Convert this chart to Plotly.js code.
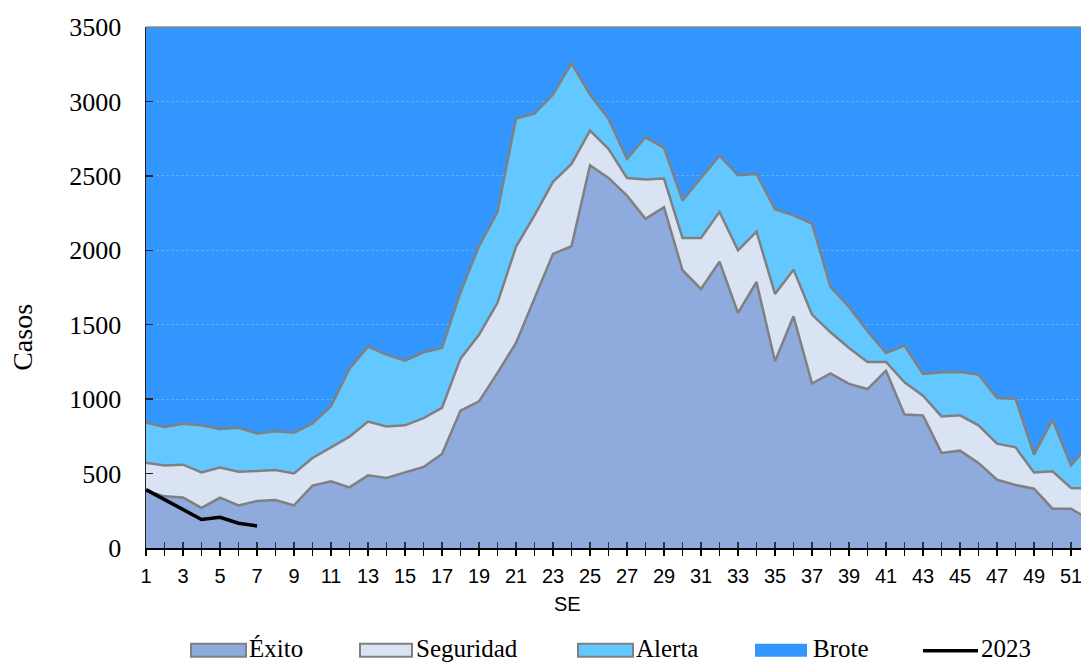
<!DOCTYPE html>
<html>
<head>
<meta charset="utf-8">
<script src="https://cdn.plot.ly/plotly-3.0.1.min.js"></script>
<style>
  body { margin: 0; background: #fff; }
  #canal { width: 1081px; height: 663px; }
</style>
</head>
<body>
<div id="canal"></div>
<script>
// Canal endémico: semanas epidemiológicas (SE) y límites de cada zona
const semanas = [1, 2, 3, 4, 5, 6, 7, 8, 9, 10, 11, 12, 13, 14, 15, 16, 17, 18, 19, 20, 21, 22, 23, 24, 25, 26,
    27, 28, 29, 30, 31, 32, 33, 34, 35, 36, 37, 38, 39, 40, 41, 42, 43, 44, 45, 46, 47, 48, 49, 50, 51, 52];

const exito = [385, 347, 340, 269, 338, 286, 316, 322, 286, 419, 448, 407, 488, 470, 508, 544, 632, 923, 985, 1176,
    1378, 1680, 1976, 2027, 2571, 2486, 2367, 2211, 2289, 1866, 1740, 1924, 1579, 1787, 1254, 1557, 1105, 1173,
    1102, 1068, 1191, 896, 891, 639, 654, 571, 459, 423, 398, 264, 264, 190];

const seguridad = [573, 555, 560, 508, 540, 513, 517, 524, 501, 605, 676, 748, 849, 817, 824, 873, 941, 1272, 1433,
    1647, 2023, 2235, 2460, 2580, 2804, 2681, 2486, 2475, 2482, 2083, 2083, 2258, 2000, 2126, 1707, 1870, 1568,
    1449, 1344, 1250, 1250, 1113, 1023, 884, 891, 824, 701, 676, 508, 515, 403, 400];

const alerta = [844, 813, 835, 824, 800, 808, 770, 784, 775, 837, 952, 1205, 1353, 1299, 1259, 1315, 1344, 1718,
    2027, 2258, 2885, 2918, 3046, 3255, 3046, 2883, 2614, 2759, 2688, 2334, 2486, 2636, 2504, 2513, 2276, 2235,
    2179, 1754, 1619, 1456, 1310, 1359, 1169, 1180, 1183, 1165, 1008, 1003, 627, 862, 555, 700];

// casos 2023 (hasta la SE 7)
const semanas2023 = [1, 2, 3, 4, 5, 6, 7];
const casos2023 = [392, 325, 264, 192, 206, 166, 148];

const leyenda = ['Éxito', 'Seguridad', 'Alerta', 'Brote', '2023'];

const colorExito = '#8faadc';
const colorSeguridad = '#dae3f3';
const colorAlerta = '#63c8ff';
const colorBrote = '#3396ff';
const colorBorde = '#808080';
const serif = '"Liberation Serif", "Times New Roman", serif';
const sans = '"Liberation Sans", Arial, sans-serif';

// cada zona se rellena hasta cero, de arriba hacia abajo
const data = [
    {
        x: semanas, y: alerta, name: leyenda[2], type: 'scatter', mode: 'lines',
        fill: 'tozeroy', fillcolor: colorAlerta,
        line: { color: colorBorde, width: 2.5 }, hoverinfo: 'x+y+name'
    },
    {
        x: semanas, y: seguridad, name: leyenda[1], type: 'scatter', mode: 'lines',
        fill: 'tozeroy', fillcolor: colorSeguridad,
        line: { color: colorBorde, width: 2.5 }, hoverinfo: 'x+y+name'
    },
    {
        x: semanas, y: exito, name: leyenda[0], type: 'scatter', mode: 'lines',
        fill: 'tozeroy', fillcolor: colorExito,
        line: { color: colorBorde, width: 2.5 }, hoverinfo: 'x+y+name'
    },
    {
        x: semanas2023, y: casos2023, name: leyenda[4], type: 'scatter', mode: 'lines',
        xaxis: 'x2',
        line: { color: '#000000', width: 3.5 }
    }
];

// posiciones de la leyenda en coordenadas del papel
const px = v => (v - 146) / 935;
const py = v => (548.3 - v) / 521.3;

const cajas = [
    { x0: 191, x1: 246, fill: colorExito, borde: true },
    { x0: 360, x1: 412, fill: colorSeguridad, borde: true },
    { x0: 578, x1: 633, fill: colorAlerta, borde: true },
    { x0: 755, x1: 807, fill: colorBrote, borde: false }
];

const shapes = cajas.map(c => ({
    type: 'rect', xref: 'paper', yref: 'paper',
    x0: px(c.x0), x1: px(c.x1), y0: py(657), y1: py(644),
    fillcolor: c.fill,
    line: { color: c.borde ? colorBorde : c.fill, width: c.borde ? 2 : 0 }
}));
shapes.push({
    type: 'line', xref: 'paper', yref: 'paper',
    x0: px(923), x1: px(978), y0: py(651), y1: py(651),
    line: { color: '#000000', width: 3.5 }
});
// borde superior del área de trazado
shapes.push({
    type: 'line', xref: 'paper', yref: 'paper', x0: 0, x1: 1, y0: 1, y1: 1,
    line: { color: '#8a8a8a', width: 1.5 }
});

const textosLeyenda = [248, 415, 635, 812, 980];
const annotations = leyenda.map((t, i) => ({
    text: t, xref: 'paper', yref: 'paper',
    x: px(textosLeyenda[i]), y: py(649),
    xanchor: 'left', yanchor: 'middle', showarrow: false, borderpad: 0,
    font: { family: serif, size: 25, color: '#000000' }
}));
annotations.push({
    text: 'Casos', xref: 'paper', yref: 'paper', x: px(23), y: py(337),
    textangle: -90, xanchor: 'center', yanchor: 'middle', showarrow: false,
    font: { family: serif, size: 28, color: '#000000' }
});
annotations.push({
    text: 'SE', xref: 'paper', yref: 'paper', x: px(567), y: py(604),
    xanchor: 'center', yanchor: 'middle', showarrow: false,
    font: { family: sans, size: 20, color: '#000000' }
});

const rangoX = [1, 51.54];

const layout = {
    width: 1081,
    height: 663,
    margin: { l: 146, r: 0, t: 27, b: 115 },
    paper_bgcolor: '#ffffff',
    plot_bgcolor: colorBrote,
    showlegend: false,
    xaxis: {
        range: rangoX,
        tick0: 1, dtick: 2,
        ticks: 'outside', ticklen: 6, tickwidth: 1.5, tickcolor: '#000000',
        minor: { tick0: 1, dtick: 1, ticks: 'outside', ticklen: 6, tickwidth: 1.5, tickcolor: '#000000', showgrid: false },
        showline: true, linecolor: '#000000', linewidth: 2,
        showgrid: false, zeroline: false,
        tickfont: { family: sans, size: 20, color: '#000000' },
        ticklabelstandoff: 3,
        ticklabeloverflow: 'allow'
    },
    xaxis2: {
        range: rangoX, overlaying: 'x', anchor: 'y', side: 'bottom',
        tick0: 1, dtick: 1,
        ticks: 'inside', ticklen: 6, tickwidth: 1.5, tickcolor: '#333333',
        showticklabels: false, showline: false, showgrid: false, zeroline: false
    },
    yaxis: {
        range: [0, 3500],
        tick0: 0, dtick: 500,
        ticks: 'inside', ticklen: 7, tickwidth: 1.5, tickcolor: '#222222',
        showline: true, linecolor: '#222222', linewidth: 1.5,
        showgrid: true, gridcolor: 'rgba(255,255,255,0.22)', griddash: '3px,2px', gridwidth: 1,
        zeroline: false,
        tickfont: { family: serif, size: 26, color: '#000000' },
        ticklabelstandoff: 18
    },
    shapes: shapes,
    annotations: annotations
};

Plotly.newPlot('canal', data, layout, { displayModeBar: false, staticPlot: true });
</script>
</body>
</html>
